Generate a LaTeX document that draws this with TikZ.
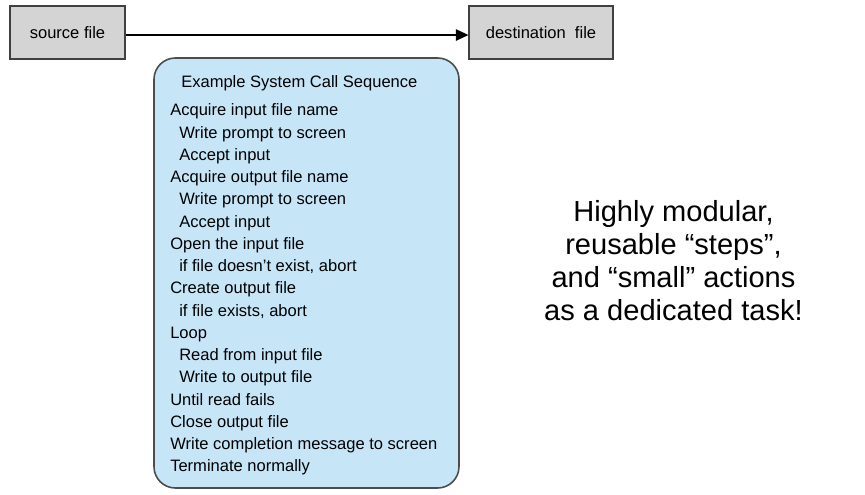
\documentclass[tikz,border=0pt]{standalone}
\usepackage{fontspec}
\setmainfont{Liberation Sans}
\usetikzlibrary{positioning}
\usetikzlibrary{arrows.meta}

\definecolor{filegray}{HTML}{D4D4D4}
\definecolor{seqblue}{HTML}{C6E6F8}

\begin{document}
\begin{tikzpicture}[>={Triangle[length=9.5pt,width=8.5pt]}, x=0.75pt, y=-0.75pt]
  % styles for the boxes and the text lines
  \tikzset{
    filebox/.style={draw=black!75, fill=filegray, thick, inner sep=0,
      minimum height=39.75pt, font=\fontsize{12.4}{15}\selectfont},
    seqbox/.style={draw=black!70, fill=seqblue, line width=1.2pt,
      rounded corners=16pt, inner sep=0},
    seqline/.style={anchor=base west, inner sep=0, font=\fontsize{12.4}{15}\selectfont},
    remark/.style={anchor=base, inner sep=0, font=\fontsize{21.8}{25}\selectfont}
  }
  % page size
  \useasboundingbox[fill=white] (0,0) rectangle (865,495);

  % The two files and the arrow between them
  \node[filebox, minimum width=86.25pt] (src) at (67.5,32.5) {source file};
  \node[filebox, minimum width=108pt] (dst) at (541,32.5) {destination\ \ file};
  \draw[->, line width=1.4pt] ([yshift=-1.9pt]src.east) -- ([yshift=-1.9pt]dst.west);

  % The rounded box with the call sequence
  \node[seqbox, minimum width=228.75pt, minimum height=322.5pt] (seq) at (306.5,273) {};
  \node[seqline] (title) at (181,88) {Example System Call Sequence};
  \foreach \ind/\txt [count=\i] in {
      0/Acquire input file name, 1/Write prompt to screen, 1/Accept input,
      0/Acquire output file name, 1/Write prompt to screen, 1/Accept input,
      0/Open the input file, {1/if file doesn't exist, abort},
      0/Create output file, {1/if file exists, abort},
      0/Loop, 1/Read from input file, 1/Write to output file,
      0/Until read fails, 0/Close output file,
      0/Write completion message to screen, 0/Terminate normally}
    \node[seqline] (line\i) at ({170+9*\ind}, {116+22.25*(\i-1)}) {\txt};

  % remark on the right
  \foreach \txt [count=\i] in {Highly modular{,}, reusable “steps”{,},
      and “small” actions, as a dedicated task!}
    \node[remark] (note\i) at (673.5, {222+33*(\i-1)}) {\txt};
\end{tikzpicture}
\end{document}
